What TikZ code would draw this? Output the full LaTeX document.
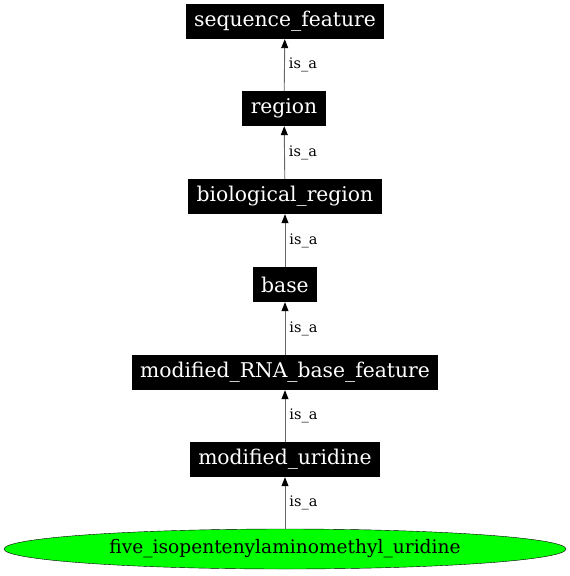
\documentclass[tikz,border=0pt]{standalone}
\usepackage{fontspec}
\setmainfont{DejaVu Serif}
\usetikzlibrary{shapes.geometric}
\usetikzlibrary{arrows.meta}

\begin{document}
\begin{tikzpicture}[x=1pt,y=1pt,
  term/.style={fill=black,text=white,font=\fontsize{20.3}{22}\selectfont,inner xsep=8.5pt,minimum height=35pt},
  isa/.style={draw=black!60,line width=0.9pt,-{Triangle[black,length=9pt,width=7pt]}},
  lab/.style={font=\fontsize{14.5}{16}\selectfont,anchor=west,inner sep=0pt}]
\useasboundingbox (0,0) rectangle (570,-576);
\node[term] (sf) at (285,-21.5) {sequence\_feature};
\node[term] (reg) at (284,-108.5) {region};
\node[term] (bio) at (285,-196.5) {biological\_region};
\node[term] (base) at (285,-284.5) {base};
\node[term] (mrb) at (285,-372.5) {modified\_RNA\_base\_feature};
\node[term] (mu) at (285,-459.5) {modified\_uridine};
\node[ellipse,draw=black,fill=green,font=\fontsize{18.6}{20}\selectfont,
  minimum width=562pt,minimum height=40pt,inner sep=0pt] (five) at (285,-549) {five\_isopentenylaminomethyl\_uridine};

\draw[isa] (reg) -- node[lab,xshift=4pt] {is\_a} (sf);
\draw[isa] (bio) -- node[lab,xshift=4pt] {is\_a} (reg);
\draw[isa] (base) -- node[lab,xshift=4pt] {is\_a} (bio);
\draw[isa] (mrb) -- node[lab,xshift=4pt] {is\_a} (base);
\draw[isa] (mu) -- node[lab,xshift=4pt] {is\_a} (mrb);
\draw[isa] (five) -- node[lab,xshift=4pt] {is\_a} (mu);
\end{tikzpicture}
\end{document}
